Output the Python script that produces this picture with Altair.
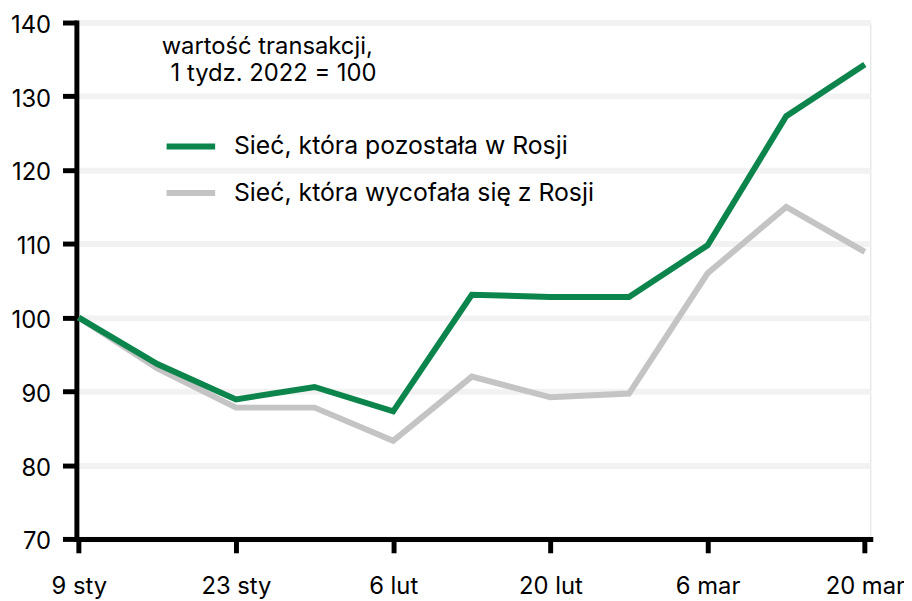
import altair as alt
import pandas as pd

week_labels = ["9 sty", "16 sty", "23 sty", "30 sty", "6 lut", "13 lut",
               "20 lut", "27 lut", "6 mar", "13 mar", "20 mar"]
stayed = [100.0, 93.7, 88.9, 90.6, 87.3, 103.1, 102.8, 102.8, 109.8, 127.3, 134.3]
left = [100.0, 93.1, 87.8, 87.8, 83.3, 92.0, 89.2, 89.7, 106.0, 115.0, 108.9]
y_ticks = [70, 80, 90, 100, 110, 120, 130, 140]
x_ticks = [0, 2, 4, 6, 8, 10]

GREEN = "#0c854c"
GRAY = "#c4c4c4"
FONT = "Inter"

df = pd.DataFrame({
    "week": list(range(len(week_labels))),
    "stayed": stayed,
    "left": left,
})

label_js = "[" + ",".join("'" + s + "'" for s in week_labels) + "]"

x_enc = alt.X(
    "week:Q",
    scale=alt.Scale(domain=[-0.03, 10.07], nice=False, zero=False),
    axis=alt.Axis(
        values=x_ticks, labelExpr=label_js + "[datum.value]",
        title=None, grid=False, labelPadding=22, labelFlush=False,
        labelOverlap=False, labelBound=False,
    ),
)

y_axis = alt.Axis(
    values=y_ticks, title=None, labelPadding=12, labelOffset=3,
    gridColor="#f2f2f2", gridWidth=6,
)

base = alt.Chart(df)

gray_line = base.mark_line(color=GRAY, strokeWidth=6).encode(
    x=x_enc,
    y=alt.Y("left:Q", scale=alt.Scale(domain=[70, 140], nice=False, zero=False), axis=y_axis),
)
green_line = base.mark_line(color=GREEN, strokeWidth=6).encode(
    x="week:Q",
    y="stayed:Q",
)

def txt(t, x, y, size=24):
    return alt.Chart(pd.DataFrame({"t": [t]})).mark_text(
        align="left", baseline="middle", fontSize=size, font=FONT, color="black"
    ).encode(text="t:N", x=alt.value(x), y=alt.value(y))

def rule(color, y):
    return alt.Chart(pd.DataFrame({"a": [0]})).mark_rule(color=color, strokeWidth=6).encode(
        x=alt.value(91), x2=alt.value(140), y=alt.value(y)
    )

chart = alt.layer(
    gray_line, green_line,
    txt("wartość transakcji,", 86, 25),
    txt("1 tydz. 2022 = 100", 95, 52),
    rule(GREEN, 125), txt("Sieć, która pozostała w Rosji", 159, 125, 25),
    rule(GRAY, 172), txt("Sieć, która wycofała się z Rosji", 159, 172, 25),
).properties(
    width=801, height=521, autosize="none",
    padding={"left": 69, "top": 12, "right": 34, "bottom": 62},
).configure_view(stroke=None).configure(background="white").configure_axis(
    domainWidth=5, tickWidth=5, tickSize=14, domainColor="black", tickColor="black",
    domainCap="square", labelFontSize=24, labelColor="black", labelFont=FONT,
)

chart.save("out.html", embed_options={"renderer": "svg", "actions": False})
